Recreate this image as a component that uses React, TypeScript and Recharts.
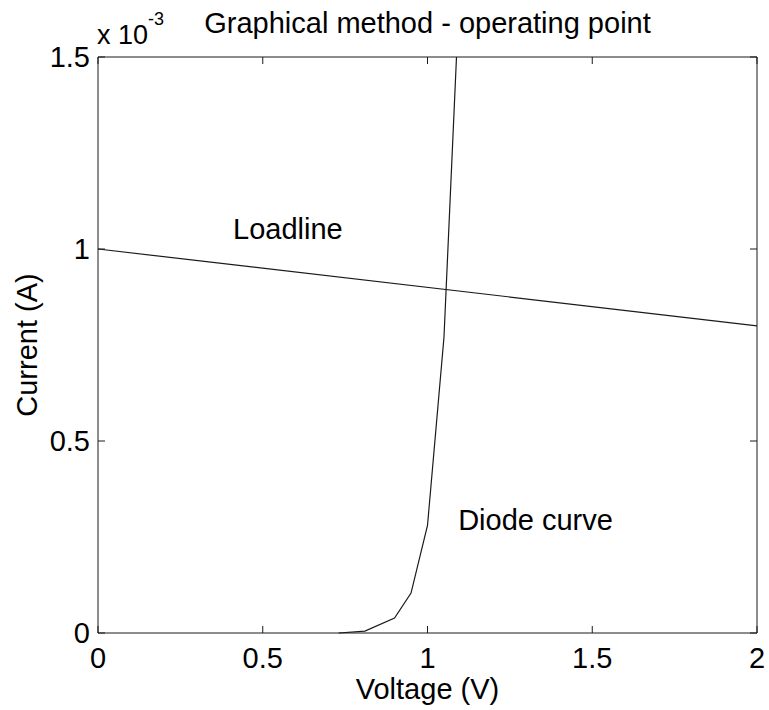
import { LineChart, Line, XAxis, YAxis, ReferenceDot } from 'recharts'

// diode curve (V, A)
const diodeVoltage = [0.73, 0.81, 0.9, 0.95, 1.0, 1.05, 1.088]
const diodeCurrent = [0, 0.000005, 0.000039, 0.000104, 0.00028, 0.00077, 0.0015]

// load line end points
const loadVoltage = [0, 2]
const loadCurrent = [0.001, 0.0008]

const xTicks = [0, 0.5, 1, 1.5, 2]
const yTicks = [0, 0.0005, 0.001, 0.0015]

const diodeData = diodeVoltage.map((v, i) => ({ v, i: diodeCurrent[i] }))
const loadData = loadVoltage.map((v, i) => ({ v, i: loadCurrent[i] }))

const FONT = 'Liberation Sans, Arial, sans-serif'
const INK = '#1a1a1a'
const FS = 29
const tickStyle = { fontSize: FS, fill: '#000', fontFamily: FONT }

const W = 769
const H = 710

function TextAt({ text }: { text: string }) {
  return (props: any) => {
    const { viewBox } = props
    return (
      <text x={viewBox.x} y={viewBox.y} fontSize={FS} fontFamily={FONT} fill="#000">
        {text}
      </text>
    )
  }
}

const noTick = () => <g />

export default function App() {
  return (
    <div style={{ position: 'absolute', left: 0, top: 0 }}>
      <LineChart
        width={W}
        height={H}
        margin={{ top: 56, right: 11, bottom: 0, left: 0 }}
        style={{ background: '#fff' }}
      >
        <XAxis
          xAxisId="b"
          type="number"
          dataKey="v"
          domain={[0, 2]}
          ticks={xTicks}
          height={77}
          tickSize={-7}
          tickMargin={21}
          tick={tickStyle}
          axisLine={{ stroke: INK }}
          tickLine={{ stroke: INK }}
        />
        <XAxis
          xAxisId="t"
          orientation="top"
          type="number"
          dataKey="v"
          domain={[0, 2]}
          ticks={xTicks}
          height={1}
          tickSize={-7}
          tick={noTick}
          axisLine={{ stroke: INK }}
          tickLine={{ stroke: INK }}
        />
        <YAxis
          yAxisId="l"
          type="number"
          domain={[0, 0.0015]}
          ticks={yTicks}
          width={98}
          tickSize={-7}
          tickMargin={15}
          tick={tickStyle}
          tickFormatter={(val: number) => String(Number((val * 1000).toFixed(3)))}
          axisLine={{ stroke: INK }}
          tickLine={{ stroke: INK }}
        />
        <YAxis
          yAxisId="r"
          orientation="right"
          type="number"
          domain={[0, 0.0015]}
          ticks={yTicks}
          width={1}
          tickSize={-7}
          tick={noTick}
          axisLine={{ stroke: INK }}
          tickLine={{ stroke: INK }}
        />
        <Line
          xAxisId="t"
          yAxisId="r"
          data={loadData}
          dataKey="i"
          type="linear"
          stroke={INK}
          strokeWidth={1.2}
          dot={false}
          isAnimationActive={false}
        />
        <Line
          xAxisId="b"
          yAxisId="l"
          data={diodeData}
          dataKey="i"
          type="linear"
          stroke={INK}
          strokeWidth={1.2}
          dot={false}
          isAnimationActive={false}
        />
        <ReferenceDot
          xAxisId="b"
          yAxisId="l"
          x={0.41}
          y={0.001026}
          r={0}
          fill="none"
          stroke="none"
          label={{ content: TextAt({ text: 'Loadline' }) }}
        />
        <ReferenceDot
          xAxisId="b"
          yAxisId="l"
          x={1.093}
          y={0.000268}
          r={0}
          fill="none"
          stroke="none"
          label={{ content: TextAt({ text: 'Diode curve' }) }}
        />
        <text x={427.5} y={33} textAnchor="middle" fontSize={FS} fontFamily={FONT} fill="#000">
          Graphical method - operating point
        </text>
        <text x={97} y={44} fontSize={27} fontFamily={FONT} fill="#000">
          x 10
        </text>
        <text x={148} y={25} fontSize={18} fontFamily={FONT} fill="#000">
          -3
        </text>
        <text x={427.5} y={699} textAnchor="middle" fontSize={FS} fontFamily={FONT} fill="#000">
          Voltage (V)
        </text>
        <text
          x={37}
          y={345}
          textAnchor="middle"
          fontSize={FS}
          fontFamily={FONT}
          fill="#000"
          transform="rotate(-90 37 345)"
        >
          Current (A)
        </text>
      </LineChart>
    </div>
  )
}
